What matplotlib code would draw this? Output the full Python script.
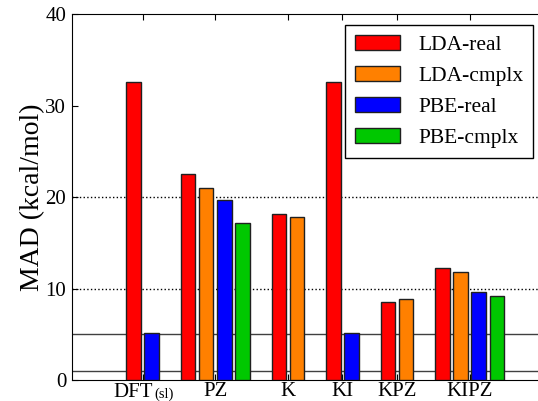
import numpy as np
import matplotlib
matplotlib.use('Agg')
import matplotlib.pyplot as plt

plt.rcParams['font.family'] = ['Liberation Serif', 'DejaVu Serif']

nan = np.nan
categories = ['DFT', 'PZ', 'K', 'KI', 'KPZ', 'KIPZ']
group_x = [0, 4, 8, 11, 14, 18]

series_names = ['LDA-real', 'LDA-cmplx', 'PBE-real', 'PBE-cmplx']
lda_real = [32.6, 22.5, 18.2, 32.6, 8.5, 12.3]
lda_cmplx = [nan, 21.0, 17.8, nan, 8.9, 11.8]
pbe_real = [5.1, 19.7, nan, 5.1, nan, 9.6]
pbe_cmplx = [nan, 17.2, nan, nan, nan, 9.2]
colors = ['#ff0000', '#ff8000', '#0000ff', '#00c800']

series = [lda_real, lda_cmplx, pbe_real, pbe_cmplx]

fig = plt.figure(figsize=(5.38, 4.01), dpi=100)
ax = fig.add_axes([0.1333, 0.0524, 0.8745, 0.912])

width = 0.8
labelled = set()
for i, gx in enumerate(group_x):
    present = [k for k in range(4) if not np.isnan(series[k][i])]
    n = len(present)
    for j, k in enumerate(present):
        lab = series_names[k] if k not in labelled else None
        labelled.add(k)
        ax.bar(gx + j - (n - 1) / 2.0, series[k][i], width, color=colors[k],
               edgecolor='#202020', linewidth=1.0, label=lab, zorder=3)

# reference lines
for y in [10, 20]:
    ax.axhline(y, color='k', ls=':', lw=1.0, zorder=1)
for y in [1, 5]:
    ax.axhline(y, color='#404040', ls='-', lw=1.0, zorder=1)

ax.set_xlim(-3.9, 22)
ax.set_ylim(0, 40)
ax.set_yticks([0, 10, 20, 30, 40])
ax.set_xticks(group_x)
# first label is drawn by hand below (DFT with small "(sl)")
ax.set_xticklabels([''] + categories[1:])
ax.tick_params(axis='both', direction='in', length=4, labelsize=15)
ax.tick_params(axis='x', top=True, bottom=True, pad=1.5)
ax.tick_params(axis='y', right=False, pad=4)
ax.spines['right'].set_visible(False)
ax.set_ylabel('MAD (kcal/mol)', fontsize=20, labelpad=0)

ax.annotate(categories[0], xy=(group_x[0], 0), xycoords=('data', 'axes fraction'),
            xytext=(-9, -17), textcoords='offset pixels', ha='center',
            va='baseline', fontsize=15, annotation_clip=False)
ax.annotate('(sl)', xy=(group_x[0], 0), xycoords=('data', 'axes fraction'),
            xytext=(12, -18), textcoords='offset pixels', ha='left',
            va='baseline', fontsize=10.5, annotation_clip=False)

# legend: LDA-real, LDA-cmplx, PBE-real, PBE-cmplx
handles, labels = ax.get_legend_handles_labels()
order = [labels.index(s) for s in series_names]
leg = ax.legend([handles[o] for o in order], [labels[o] for o in order],
                loc='upper right', bbox_to_anchor=(0.981, 0.971),
                borderaxespad=0, fontsize=15.5, handlelength=2.1,
                handleheight=0.73, handletextpad=0.85, labelspacing=0.5,
                borderpad=0.45, fancybox=False, framealpha=1)
leg.get_frame().set_edgecolor('k')
leg.get_frame().set_linewidth(1.0)

fig.savefig('out.png', dpi=100)
